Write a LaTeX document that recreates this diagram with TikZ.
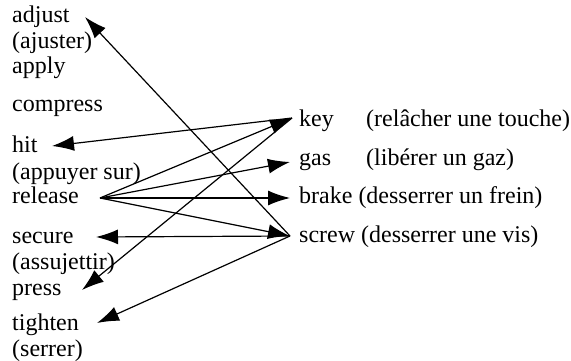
\documentclass[tikz,border=0pt]{standalone}
\usepackage{fontspec}
\setmainfont{Liberation Serif}
\usetikzlibrary{arrows.meta}
\tikzset{
  word/.style={anchor=base west, inner sep=0pt, font=\fontsize{24}{28}\selectfont},
  link/.style={line width=1.2pt, -{Latex[length=22pt, width=15pt]}},
}
\begin{document}
\begin{tikzpicture}[x=1pt, y=-1pt]
\useasboundingbox (0,0) rectangle (571,361);
% left column
\node[word] (adjust) at (12,23) {adjust};
\node[word] (ajuster) at (12,49) {(ajuster)};
\node[word] (apply) at (12,74) {apply};
\node[word] (compress) at (12,112) {compress};
\node[word] (hit) at (12,153) {hit};
\node[word] (appuyer) at (12,179) {(appuyer sur)};
\node[word] (release) at (12,204) {release};
\node[word] (secure) at (12,243) {secure};
\node[word] (assujettir) at (12,269) {(assujettir)};
\node[word] (press) at (12,295) {press};
\node[word] (tighten) at (12,330) {tighten};
\node[word] (serrer) at (12,356) {(serrer)};
% right column
\node[word] (key) at (299,126) {key};
\node[word] (keygloss) at (366,126) {(relâcher une touche)};
\node[word] (gas) at (299,165) {gas};
\node[word] (gasgloss) at (366,165) {(libérer un gaz)};
\node[word] (brake) at (299,204) {brake (desserrer un frein)};
\node[word] (screw) at (299,242) {screw (desserrer une vis)};
% connector end points
\coordinate (pAdjust) at (85,17);
\coordinate (pHit) at (52,146);
\coordinate (pRelease) at (100,198);
\coordinate (pSecure) at (96,237);
\coordinate (pPress) at (82,290);
\coordinate (pTighten) at (97,323);
\coordinate (pKey) at (292,118);
\coordinate (pGas) at (290,162);
\coordinate (pBrake) at (290,198);
\coordinate (pScrew) at (290,236);
% release fans out to the four objects
\draw[link] (pRelease) -- (pKey);
\draw[link] (pRelease) -- (pGas);
\draw[link] (pRelease) -- (pBrake);
\draw[link] (pRelease) -- (pScrew);
% key points back to hit and press
\draw[link] (pKey) -- (pHit);
\draw[link] (pKey) -- (pPress);
% screw points back to adjust, secure and tighten
\draw[link] (pScrew) -- (pAdjust);
\draw[link] (pScrew) -- (pSecure);
\draw[link] (pScrew) -- (pTighten);
\end{tikzpicture}
\end{document}
